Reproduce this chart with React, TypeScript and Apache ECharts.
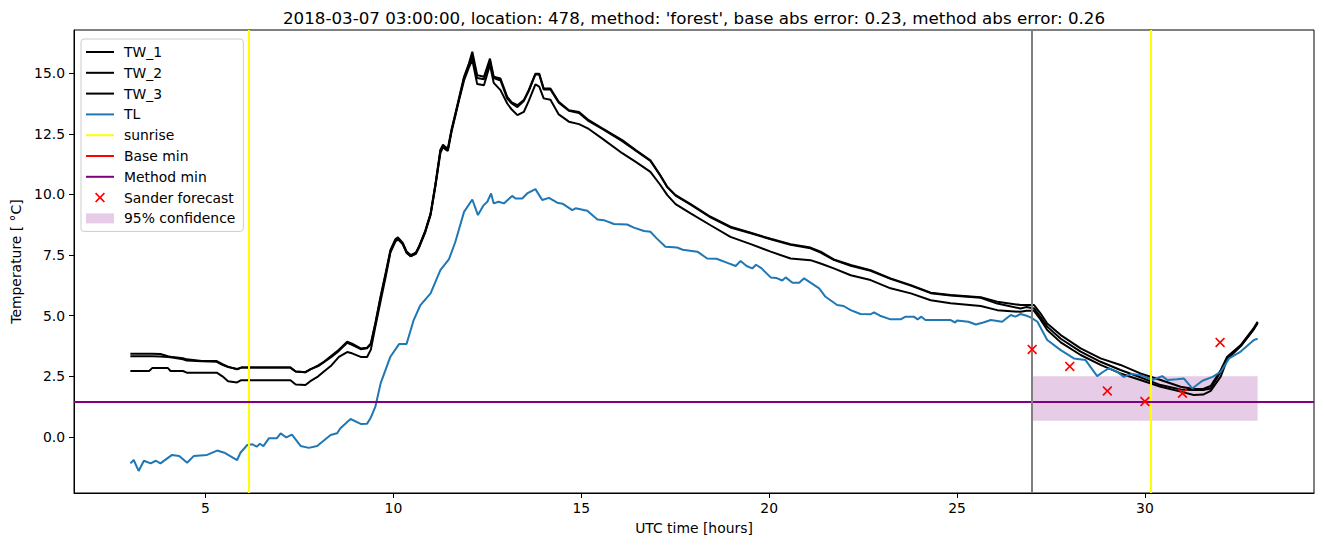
import React, { useEffect, useRef } from "react";
import * as echarts from "echarts";

const TITLE = "2018-03-07 03:00:00, location: 478, method: 'forest', base abs error: 0.23, method abs error: 0.26";

const TW_TIME = [3.0, 3.5, 3.58, 3.8, 4.0, 4.07, 4.4, 4.5, 4.9, 5.3, 5.45, 5.6, 5.84, 5.95, 6.11, 7.26, 7.4, 7.66, 7.79, 8.0, 8.15, 8.35, 8.55, 8.77, 8.9, 9.13, 9.3, 9.4, 9.52, 9.66, 9.8, 9.92, 10.05, 10.12, 10.25, 10.35, 10.46, 10.6, 10.68, 10.85, 10.99, 11.12, 11.25, 11.32, 11.39, 11.45, 11.55, 11.65, 11.75, 11.88, 12.0, 12.1, 12.23, 12.41, 12.57, 12.67, 12.85, 13.03, 13.15, 13.3, 13.47, 13.6, 13.78, 13.88, 14.0, 14.18, 14.4, 14.67, 14.94, 15.2, 15.56, 16.09, 16.45, 16.84, 17.1, 17.29, 17.51, 17.91, 18.44, 18.97, 19.51, 20.04, 20.57, 21.1, 21.37, 21.72, 22.17, 22.7, 23.23, 23.77, 24.3, 24.83, 25.63, 26.07, 26.69, 26.85, 27.05, 27.22, 27.4, 27.76, 28.29, 28.82, 29.35, 29.88, 30.42, 30.95, 31.3, 31.55, 31.75, 32.02, 32.19, 32.55, 32.9, 33.0];

const TW_1 = [3.43, 3.43, 3.43, 3.42, 3.33, 3.31, 3.25, 3.2, 3.13, 3.13, 3.0, 2.9, 2.79, 2.86, 2.86, 2.86, 2.7, 2.67, 2.79, 2.95, 3.1, 3.35, 3.6, 3.93, 3.85, 3.65, 3.68, 3.86, 4.7, 5.8, 6.8, 7.7, 8.15, 8.23, 8.0, 7.65, 7.5, 7.6, 7.84, 8.5, 9.21, 10.45, 11.83, 12.05, 11.95, 11.9, 12.7, 13.34, 14.0, 14.85, 15.35, 15.88, 14.92, 14.85, 15.6, 14.85, 14.78, 14.02, 13.8, 13.68, 13.89, 14.3, 14.98, 14.98, 14.37, 14.37, 13.82, 13.47, 13.4, 13.06, 12.72, 12.24, 11.83, 11.41, 10.8, 10.31, 9.97, 9.6, 9.08, 8.67, 8.42, 8.17, 7.95, 7.81, 7.64, 7.32, 7.09, 6.88, 6.54, 6.26, 5.95, 5.85, 5.76, 5.58, 5.44, 5.44, 5.44, 5.1, 4.68, 4.2, 3.65, 3.24, 2.97, 2.62, 2.35, 2.07, 1.98, 1.98, 2.1, 2.76, 3.31, 3.79, 4.5, 4.75];

const TW_2 = [3.33, 3.33, 3.33, 3.32, 3.3, 3.29, 3.2, 3.15, 3.12, 3.1, 2.97, 2.88, 2.8, 2.86, 2.86, 2.86, 2.7, 2.67, 2.79, 2.92, 3.08, 3.3, 3.55, 3.88, 3.8, 3.62, 3.66, 3.82, 4.65, 5.75, 6.75, 7.65, 8.1, 8.2, 7.95, 7.6, 7.45, 7.6, 7.84, 8.5, 9.2, 10.4, 11.8, 12.0, 11.9, 11.85, 12.65, 13.3, 13.95, 14.8, 15.3, 15.7, 14.8, 14.75, 15.5, 14.8, 14.7, 13.95, 13.75, 13.6, 13.85, 14.25, 14.95, 14.95, 14.33, 14.33, 13.78, 13.45, 13.36, 13.02, 12.7, 12.2, 11.8, 11.38, 10.78, 10.3, 9.95, 9.58, 9.05, 8.64, 8.4, 8.15, 7.92, 7.78, 7.6, 7.3, 7.06, 6.85, 6.52, 6.24, 5.93, 5.83, 5.74, 5.5, 5.3, 5.36, 5.3, 4.95, 4.55, 4.05, 3.52, 3.1, 2.76, 2.46, 2.14, 1.96, 1.94, 1.94, 2.0, 2.7, 3.25, 3.75, 4.45, 4.7];

const TW_3 = [2.72, 2.72, 2.84, 2.84, 2.84, 2.72, 2.72, 2.65, 2.65, 2.65, 2.5, 2.3, 2.25, 2.34, 2.34, 2.34, 2.16, 2.14, 2.3, 2.5, 2.7, 2.95, 3.3, 3.5, 3.45, 3.3, 3.3, 3.6, 4.55, 5.6, 6.65, 7.6, 8.05, 8.15, 7.95, 7.6, 7.45, 7.55, 7.8, 8.45, 9.15, 10.35, 11.7, 11.95, 11.85, 11.8, 12.6, 13.25, 13.9, 14.7, 15.2, 15.55, 14.55, 14.5, 15.35, 14.6, 14.3, 13.75, 13.5, 13.27, 13.4, 13.85, 14.54, 14.45, 13.96, 13.9, 13.3, 13.0, 12.9, 12.7, 12.3, 11.7, 11.34, 10.93, 10.4, 9.97, 9.6, 9.22, 8.73, 8.25, 7.95, 7.64, 7.36, 7.29, 7.15, 6.95, 6.67, 6.47, 6.13, 5.92, 5.64, 5.51, 5.4, 5.23, 5.16, 5.2, 5.2, 4.85, 4.41, 3.9, 3.38, 2.97, 2.62, 2.35, 2.07, 1.87, 1.73, 1.75, 1.9, 2.5, 3.2, 3.75, 4.45, 4.7];

const TL_TIME = [3.0, 3.09, 3.22, 3.36, 3.54, 3.68, 3.8, 4.11, 4.3, 4.51, 4.69, 5.04, 5.31, 5.5, 5.84, 5.93, 6.11, 6.25, 6.36, 6.45, 6.54, 6.69, 6.9, 7.0, 7.15, 7.3, 7.53, 7.75, 7.97, 8.33, 8.5, 8.59, 8.86, 9.13, 9.3, 9.39, 9.52, 9.66, 9.92, 10.15, 10.35, 10.54, 10.72, 10.99, 11.25, 11.48, 11.65, 11.88, 12.1, 12.25, 12.4, 12.5, 12.6, 12.67, 12.8, 12.94, 13.16, 13.25, 13.43, 13.56, 13.78, 13.96, 14.14, 14.36, 14.5, 14.76, 14.85, 15.16, 15.43, 15.6, 15.87, 16.22, 16.4, 16.67, 16.84, 17.0, 17.24, 17.55, 17.7, 18.09, 18.35, 18.6, 18.89, 19.11, 19.24, 19.4, 19.55, 19.65, 19.8, 20.04, 20.2, 20.35, 20.44, 20.62, 20.8, 20.93, 21.33, 21.5, 21.81, 21.98, 22.17, 22.43, 22.7, 22.79, 22.95, 23.23, 23.5, 23.63, 23.85, 23.95, 24.05, 24.16, 24.83, 24.95, 25.0, 25.3, 25.5, 25.7, 25.9, 26.2, 26.43, 26.55, 26.69, 26.85, 26.96, 27.14, 27.4, 27.76, 28.11, 28.42, 28.73, 28.9, 29.04, 29.25, 29.44, 29.65, 29.89, 30.2, 30.46, 30.6, 30.85, 31.04, 31.26, 31.53, 31.8, 32.02, 32.24, 32.55, 32.9, 33.0];

const TL = [-1.09, -0.95, -1.4, -0.98, -1.09, -0.98, -1.09, -0.74, -0.78, -1.06, -0.78, -0.74, -0.56, -0.65, -0.95, -0.65, -0.33, -0.3, -0.4, -0.28, -0.38, -0.05, -0.05, 0.15, -0.02, 0.1, -0.37, -0.45, -0.37, 0.08, 0.15, 0.36, 0.74, 0.54, 0.55, 0.77, 1.25, 2.21, 3.31, 3.83, 3.83, 4.82, 5.44, 5.92, 6.88, 7.33, 8.05, 9.28, 9.79, 9.15, 9.55, 9.7, 10.04, 9.63, 9.7, 9.63, 9.94, 9.83, 9.83, 10.04, 10.22, 9.77, 9.86, 9.66, 9.62, 9.35, 9.43, 9.33, 8.97, 8.94, 8.78, 8.76, 8.63, 8.49, 8.46, 8.2, 7.84, 7.81, 7.72, 7.64, 7.36, 7.35, 7.18, 7.05, 7.26, 7.05, 6.95, 7.1, 6.95, 6.58, 6.55, 6.45, 6.58, 6.36, 6.36, 6.54, 6.13, 5.78, 5.44, 5.4, 5.23, 5.07, 5.06, 5.14, 5.0, 4.85, 4.85, 4.96, 4.96, 4.85, 4.96, 4.82, 4.82, 4.72, 4.8, 4.75, 4.64, 4.72, 4.82, 4.75, 5.03, 4.96, 5.07, 5.0, 4.93, 4.75, 4.0, 3.58, 3.24, 3.17, 2.51, 2.7, 2.83, 2.7, 2.48, 2.6, 2.55, 2.35, 2.51, 2.35, 2.38, 2.41, 2.0, 2.32, 2.48, 2.69, 3.24, 3.52, 4.0, 4.05];

const SUNRISE = [6.15, 30.15];
const FORECAST_START = 27.0;
const BASE_MIN = 1.47;
const METHOD_MIN = 1.47;
const SANDER_TIME = [27, 28, 29, 30, 31, 32];
const SANDER = [3.61, 2.91, 1.9, 1.46, 1.8, 3.9];
const CONF_RANGE = [27, 33];
const CONF_LOW = 0.67;
const CONF_HIGH = 2.5;

const X_TICKS = [5, 10, 15, 20, 25, 30];
const Y_TICKS = [0, 2.5, 5, 7.5, 10, 12.5, 15];

const FONT = "DejaVu Sans";
const XPATH = "path://M0,1.2 L1.2,0 L5,3.8 L8.8,0 L10,1.2 L6.2,5 L10,8.8 L8.8,10 L5,6.2 L1.2,10 L0,8.8 L3.8,5 Z";
const LINE_ICON = "path://M0,0 L28,0 L28,2 L0,2 Z";

export default function App() {
  const ref = useRef<HTMLDivElement>(null);
  useEffect(() => {
    if (!ref.current) return;
    const chart = echarts.init(ref.current, null, { renderer: "svg" });
    const pair = (ts: number[], vs: number[]) => ts.map((t, i) => [t, vs[i]]);
    const blackLine = (name: string, vals: number[]) => ({
      name,
      type: "line",
      data: pair(TW_TIME, vals),
      symbol: "none",
      showSymbol: false,
      color: "#000000",
      lineStyle: { color: "#000000", width: 2 },
      z: 3,
    });
    const lineItem = (name: string, color: string) => ({ name, icon: LINE_ICON, itemStyle: { color } });
    const option: any = {
      animation: false,
      title: {
        text: TITLE,
        left: 694,
        top: 8,
        padding: 0,
        textAlign: "center",
        textStyle: { fontFamily: FONT, fontSize: 16.7, fontWeight: "normal", color: "#000", lineHeight: 20 },
      },
      grid: {
        left: 74, top: 30, width: 1240, height: 463,
        show: true, borderColor: "#000", borderWidth: 1,
        containLabel: false, outerBoundsMode: "none",
      },
      xAxis: {
        type: "value", min: 1.5, max: 34.5,
        name: "UTC time [hours]", nameLocation: "middle", nameGap: 28,
        nameTextStyle: { fontFamily: FONT, fontSize: 13.9, color: "#000" },
        axisLine: { show: true, onZero: false, lineStyle: { color: "#000", width: 1 } },
        axisTick: { show: true, length: 5, customValues: X_TICKS, lineStyle: { color: "#000", width: 1 } },
        axisLabel: { margin: 8, customValues: X_TICKS, fontFamily: FONT, fontSize: 13.9, color: "#000", formatter: (v: number) => String(v) },
        splitLine: { show: false },
      },
      yAxis: {
        type: "value", min: -2.31, max: 16.78,
        name: "Temperature [ °C]", nameLocation: "middle", nameGap: 47, nameRotate: 90,
        nameTextStyle: { fontFamily: FONT, fontSize: 13.9, color: "#000" },
        axisLine: { show: true, onZero: false, lineStyle: { color: "#000", width: 1 } },
        axisTick: { show: true, length: 5, customValues: Y_TICKS, lineStyle: { color: "#000", width: 1 } },
        axisLabel: { margin: 9, customValues: Y_TICKS, fontFamily: FONT, fontSize: 13.9, color: "#000", formatter: (v: number) => v.toFixed(1) },
        splitLine: { show: false },
      },
      legend: {
        orient: "vertical",
        left: 81, top: 39,
        padding: [5, 8, 5, 5],
        itemWidth: 28, itemHeight: 10, itemGap: 4.8,
        backgroundColor: "#fff",
        borderColor: "#cccccc", borderWidth: 1, borderRadius: 3,
        textStyle: { fontFamily: FONT, fontSize: 13.9, color: "#000", lineHeight: 16, padding: [0, 0, 0, 5] },
        selectedMode: false,
        data: [
          lineItem("TW_1", "#000000"),
          lineItem("TW_2", "#000000"),
          lineItem("TW_3", "#000000"),
          lineItem("TL", "#1f77b4"),
          lineItem("sunrise", "#ffff00"),
          lineItem("Base min", "#ff0000"),
          lineItem("Method min", "#800080"),
          { name: "Sander forecast", icon: XPATH, itemStyle: { color: "#ff0000" } },
          { name: "95% confidence", icon: "rect", itemStyle: { color: "rgba(128,0,128,0.2)" } },
        ],
      },
      series: [
        {
          name: "95% confidence", type: "line", data: [], symbol: "none",
          color: "rgba(128,0,128,0.2)", z: 1,
          markArea: {
            silent: true,
            itemStyle: { color: "rgba(128,0,128,0.2)" },
            data: [[{ xAxis: CONF_RANGE[0], yAxis: CONF_LOW }, { xAxis: CONF_RANGE[1], yAxis: CONF_HIGH }]],
          },
        },
        blackLine("TW_1", TW_1),
        blackLine("TW_2", TW_2),
        blackLine("TW_3", TW_3),
        {
          name: "TL", type: "line", data: pair(TL_TIME, TL), symbol: "none", showSymbol: false,
          color: "#1f77b4", lineStyle: { color: "#1f77b4", width: 2 }, z: 3,
        },
        {
          name: "sunrise", type: "line", data: [], symbol: "none", color: "#ffff00",
          lineStyle: { color: "#ffff00", width: 2 }, z: 4,
          markLine: {
            silent: true, symbol: ["none", "none"], label: { show: false },
            lineStyle: { color: "#ffff00", width: 2, type: "solid" },
            data: SUNRISE.map((s) => ({ xAxis: s })),
          },
        },
        {
          name: "Base min", type: "line", data: [], symbol: "none", color: "#ff0000",
          lineStyle: { color: "#ff0000", width: 2 }, z: 4,
          markLine: {
            silent: true, symbol: ["none", "none"], label: { show: false },
            lineStyle: { color: "#ff0000", width: 2, type: "solid" },
            data: [{ yAxis: BASE_MIN }],
          },
        },
        {
          name: "Method min", type: "line", data: [], symbol: "none", color: "#800080",
          lineStyle: { color: "#800080", width: 2 }, z: 5,
          markLine: {
            silent: true, symbol: ["none", "none"], label: { show: false },
            lineStyle: { color: "#800080", width: 2, type: "solid" },
            data: [{ yAxis: METHOD_MIN }],
          },
        },
        {
          name: "forecast start", type: "line", data: [], symbol: "none", color: "#808080", z: 5,
          markLine: {
            silent: true, symbol: ["none", "none"], label: { show: false },
            lineStyle: { color: "#808080", width: 2, type: "solid" },
            data: [{ xAxis: FORECAST_START }],
          },
        },
        {
          name: "Sander forecast", type: "scatter", data: pair(SANDER_TIME, SANDER),
          symbol: XPATH, symbolSize: 10, color: "#ff0000", itemStyle: { color: "#ff0000", opacity: 1 }, z: 6,
        },
      ],
    };
    chart.setOption(option);
    return () => chart.dispose();
  }, []);
  return (
    <div
      ref={ref}
      style={{ position: "absolute", left: 0, top: 0, width: 1324, height: 547, background: "#fff" }}
    />
  );
}
